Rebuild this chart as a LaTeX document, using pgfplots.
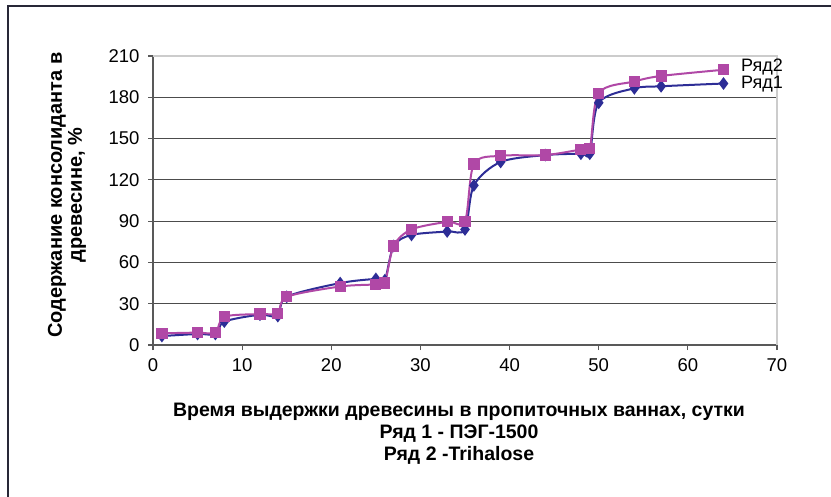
\documentclass[border=0pt]{standalone}
\usepackage{pgfplots}
\pgfplotsset{compat=1.18}
\usepackage{fontspec}
\setmainfont{Liberation Sans}
\definecolor{serA}{RGB}{45,45,150}
\definecolor{serB}{RGB}{176,72,166}
\definecolor{frame}{RGB}{40,40,55}
\pgfplotstableread{
x y
1 6.5
5 8
7 8
8 17
12 22
14 21
15 35
21 45
25 48
26 47
27 72
29 80
33 82.5
35 84
36 116
39 133
44 138
48 139
49 139
50 176
54 186.5
57 188
64 190
}\seriesA
\pgfplotstableread{
x y
1 8.5
5 9
7 9
8 20.5
12 22.5
14 23
15 35
21 42.5
25 44
26 45
27 72
29 84
33 89.5
35 90
36 131.5
39 137.5
44 138
48 142
49 142.5
50 183
54 191.5
57 195.5
64 200
}\seriesB
\begin{document}
\begin{tikzpicture}[x=1pt,y=1pt]
\useasboundingbox (0,0) rectangle (831,496);
\draw[line width=2.5pt, color=frame] (8,-2) -- (8,490) -- (833,490);
\begin{axis}[
  at={(153pt,151pt)}, anchor=south west,
  scale only axis, width=624pt, height=289pt,
  xmin=0, xmax=70, ymin=0, ymax=210,
  xtick={0,10,...,70}, ytick={0,30,...,210},
  axis x line*=bottom, axis y line*=left,
  axis line style={black!65, line width=1.2pt},
  ymajorgrids, grid style={black!70, line width=1.2pt},
  tick align=outside, major tick length=5pt,
  tick style={black!65, line width=1.2pt},
  tick label style={font=\fontsize{18.5}{20}\selectfont},
  xticklabel style={yshift=-5pt},
  yticklabel style={xshift=-5pt},
  /pgf/number format/assume math mode=true,
  clip=false,
]
\draw[black!20, line width=1.2pt] (rel axis cs:0,1) -- (rel axis cs:1,1) -- (rel axis cs:1,0);
\addplot[serA, line width=2pt, smooth, tension=0.5, mark=diamond*, mark size=4.8pt, mark options={solid, fill=serA}] table {\seriesA};
\addplot[serB, line width=2pt, smooth, tension=0.5, mark=square*, mark size=4.6pt, mark options={solid, fill=serB}] table {\seriesB};
\end{axis}
\node[anchor=west, font=\fontsize{18}{20}\selectfont, inner sep=0pt] at (741,429) {Ряд2};
\node[anchor=west, font=\fontsize{18}{20}\selectfont, inner sep=0pt] at (741,412) {Ряд1};
\node[rotate=90, align=center, font=\bfseries\fontsize{20}{20}\selectfont] at (67,301) {Содержание консолиданта в\\древесине, \%};
\node[align=center, font=\bfseries\fontsize{19.5}{22}\selectfont] at (459,62) {Время выдержки древесины в пропиточных ваннах, сутки\\Ряд 1 - ПЭГ-1500\\Ряд 2 -Trihalose};
\end{tikzpicture}
\end{document}
